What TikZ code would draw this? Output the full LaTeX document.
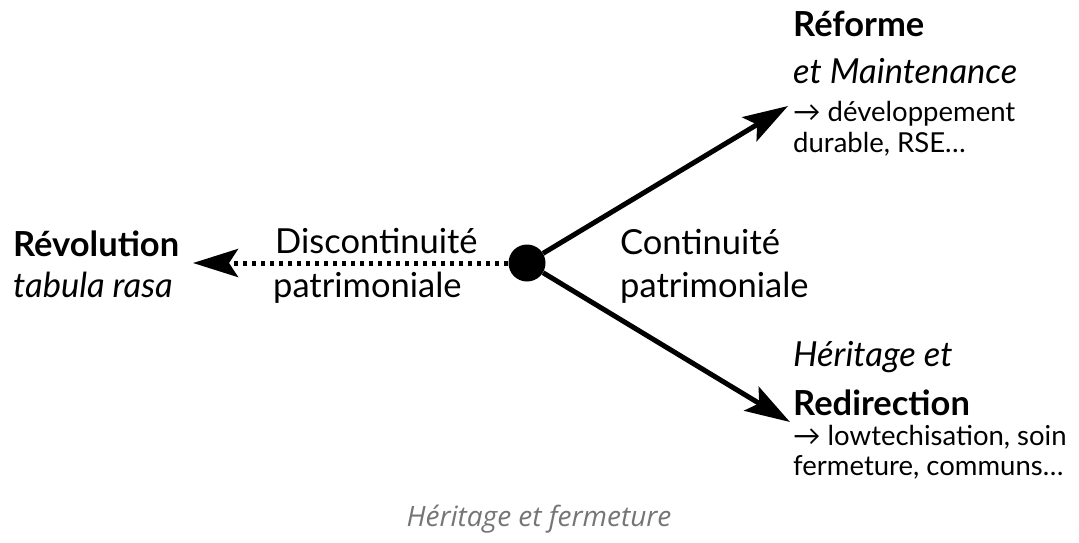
\documentclass[tikz,border=0pt]{standalone}
\usepackage{fontspec}
\setmainfont{Lato}
\newfontfamily\capfont{Open Sans}
\usetikzlibrary{arrows.meta}
\definecolor{capgray}{HTML}{757575}
\begin{document}
\begin{tikzpicture}[x=1pt,y=-1pt,
  big/.style={anchor=base west, inner sep=0pt, font=\fontsize{34.5}{40}\selectfont},
  bigb/.style={anchor=base west, inner sep=0pt, font=\fontsize{34.5}{40}\selectfont\bfseries},
  bigi/.style={anchor=base west, inner sep=0pt, font=\fontsize{34.5}{40}\selectfont\itshape},
  small/.style={anchor=base west, inner sep=0pt, font=\fontsize{27.5}{32}\selectfont},
  branch/.style={line width=5pt, -{Stealth[length=45pt,width=28pt,inset=9pt]}},
  dotline/.style={branch, dash pattern=on 4.5pt off 4.5pt}]
\useasboundingbox (0,0) rectangle (1079,542);
\node[circle, fill, minimum size=37pt, inner sep=0pt] (hub) at (527,263) {};
\coordinate (revtip) at (193,263);
\coordinate (reftip) at (788,106);
\coordinate (redtip) at (790,422);
\draw[dotline] (hub) -- (revtip);
\draw[branch] (hub) -- (reftip);
\draw[branch] (hub) -- (redtip);
% left
\node[bigb] (rev) at (13,256) {Révolution};
\node[bigi] (tab) at (13,297) {tabula rasa};
\node[big] (disc) at (275,253) {Discontinuité};
\node[big] (patl) at (273,297) {patrimoniale};
% middle right
\node[big] (cont) at (620,254) {Continuité};
\node[big] (patr) at (620,297) {patrimoniale};
% upper block
\node[bigb] (ref) at (793,36) {Réforme};
\node[bigi] (maint) at (793,83) {et Maintenance};
\node[small] (dev) at (793,121) {→ développement};
\node[small] (dur) at (793,152) {durable, RSE…};
% lower block
\node[bigi] (her) at (793,366) {Héritage et};
\node[bigb] (redir) at (793,415) {Redirection};
\node[small] (low) at (793,445) {→ lowtechisation, soin};
\node[small] (ferm) at (793,475) {fermeture, communs…};
% caption
\node[anchor=base, inner sep=0pt, text=capgray, font=\capfont\itshape\fontsize{28}{33}\selectfont] (cap) at (539,526) {Héritage et fermeture};
\end{tikzpicture}
\end{document}
